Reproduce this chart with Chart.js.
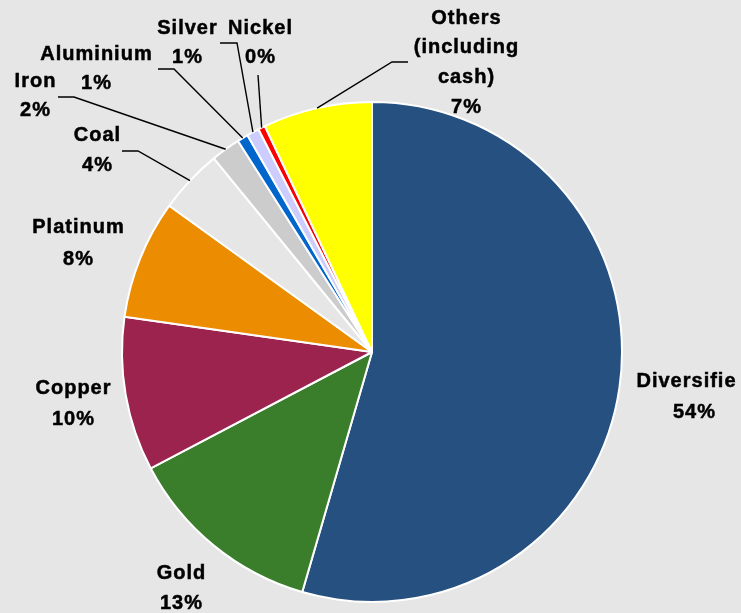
<!DOCTYPE html>
<html>
<head>
<meta charset="utf-8">
<script src="https://cdn.jsdelivr.net/npm/chart.js@4"></script>
<style>
  html, body { margin: 0; padding: 0; background: #e6e6e6; }
  #wrap { width: 741px; height: 613px; position: relative; }
</style>
</head>
<body>
<div id="wrap"><canvas id="c" width="741" height="613"></canvas></div>
<script>
// ---- data ----
const categories = ["Diversified", "Gold", "Copper", "Platinum", "Coal", "Iron", "Aluminium", "Silver", "Nickel", "Others (including cash)"];
const shares = [54.5, 12.8, 9.95, 7.7, 4.15, 1.9, 0.7, 0.8, 0.45, 7.05];
const displayNames = [["Diversifie"], ["Gold"], ["Copper"], ["Platinum"], ["Coal"], ["Iron"], ["Aluminium"], ["Silver"], ["Nickel"], ["Others", "(including", "cash)"]];
const colors = ["#26507f", "#3a7e2c", "#9b234d", "#ec8c00", "#e6e6e6", "#cccccc", "#0066cc", "#ccccff", "#ff0000", "#ffff00"];

// ---- label layout (text centre x, vertical middles of each line, optional leader elbow) ----
const labelLayout = [
  { x: 686, ys: [379.5, 410.5], x2: 694 },
  { x: 181, ys: [571.5, 601.5] },
  { x: 73,  ys: [387, 417.5] },
  { x: 78,  ys: [225.8, 257.5] },
  { x: 97,  ys: [133.3, 163.8], elbow: [[122, 151], [138, 151]] },
  { x: 35,  ys: [80, 109],      elbow: [[58, 97], [74, 97]] },
  { x: 96,  ys: [52.5, 81.7],   elbow: [[158, 69], [174, 69]] },
  { x: 187, ys: [27, 55.5],     elbow: [[220, 43], [237, 43]] },
  { x: 260, ys: [27, 55.5],     elbow: [[258, 75]] },
  { x: 466, ys: [17, 46, 76, 106], elbow: [[408, 62], [392, 62]] }
];

const total = shares.reduce((a, b) => a + b, 0);

const labelPlugin = {
  id: 'pieLabels',
  afterDraw(chart) {
    const ctx = chart.ctx;
    const arcs = chart.getDatasetMeta(0).data;
    ctx.save();
    // leader lines
    ctx.strokeStyle = '#000';
    ctx.lineWidth = 1.4;
    arcs.forEach((arc, i) => {
      const L = labelLayout[i];
      if (!L.elbow) return;
      const p = arc.getProps(['x', 'y', 'startAngle', 'endAngle', 'outerRadius'], true);
      const mid = (p.startAngle + p.endAngle) / 2;
      const ex = p.x + Math.cos(mid) * p.outerRadius;
      const ey = p.y + Math.sin(mid) * p.outerRadius;
      ctx.beginPath();
      ctx.moveTo(L.elbow[0][0], L.elbow[0][1]);
      for (let k = 1; k < L.elbow.length; k++) ctx.lineTo(L.elbow[k][0], L.elbow[k][1]);
      ctx.lineTo(ex, ey);
      ctx.stroke();
    });
    // text
    ctx.fillStyle = '#000';
    ctx.strokeStyle = '#000';
    ctx.lineWidth = 0.5;
    ctx.font = 'bold 20px "Liberation Sans", Arial, sans-serif';
    ctx.textAlign = 'center';
    ctx.textBaseline = 'alphabetic';
    try { ctx.letterSpacing = '1px'; } catch (e) {}
    arcs.forEach((arc, i) => {
      const L = labelLayout[i];
      const pct = Math.round(shares[i] / total * 100) + '%';
      const lines = displayNames[i].concat([pct]);
      lines.forEach((t, k) => {
        let x = L.x;
        if (k === lines.length - 1 && L.x2) x = L.x2;
        ctx.fillText(t, x + 0.5, L.ys[k] + 7.2);
        ctx.strokeText(t, x + 0.5, L.ys[k] + 7.2);
      });
    });
    ctx.restore();
  }
};

new Chart(document.getElementById('c'), {
  type: 'pie',
  data: {
    labels: categories,
    datasets: [{
      data: shares,
      backgroundColor: colors,
      borderColor: '#ffffff',
      borderWidth: 2,
      radius: 250
    }]
  },
  options: {
    responsive: false,
    animation: false,
    layout: { padding: { left: 3, right: 0, top: 91, bottom: 0 } },
    plugins: { legend: { display: false }, tooltip: { enabled: false } }
  },
  plugins: [labelPlugin]
});
</script>
</body>
</html>
